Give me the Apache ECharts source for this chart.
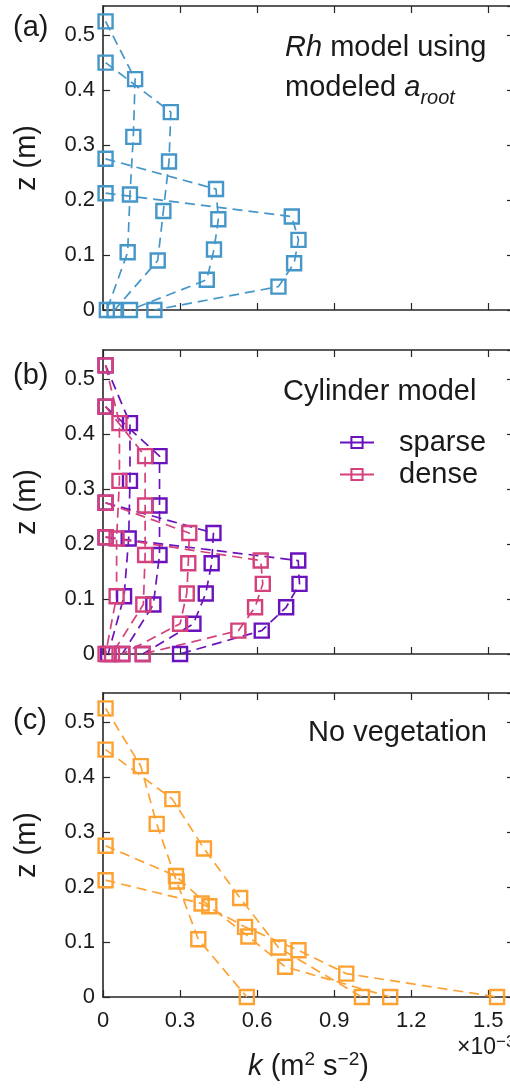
<!DOCTYPE html>
<html>
<head>
<meta charset="utf-8">
<script src="https://cdn.jsdelivr.net/npm/echarts@6/dist/echarts.min.js"></script>
<style>html,body{margin:0;padding:0;background:#fff}#chart{width:510px;height:1088px}</style>
</head>
<body>
<div id="chart"></div>
<script>
// heights of the measurement points (m), one list per flow depth
const zB = [0.525, 0.42, 0.315, 0.21, 0.105, 0];
const zA = [0.45, 0.36, 0.27, 0.18, 0.09, 0];
const zC = [0.275, 0.22, 0.165, 0.11, 0.055, 0];
const zD = [0.2125, 0.17, 0.1275, 0.085, 0.0425, 0];

// k (x10^-3 m2 s-2), panel (a) Rh model
const rhB = [0.01, 0.125, 0.118, 0.105, 0.096, 0.015];
const rhA = [0.01, 0.264, 0.257, 0.235, 0.213, 0.045];
const rhC = [0.01, 0.44, 0.449, 0.432, 0.404, 0.105];
const rhD = [0.01, 0.735, 0.761, 0.744, 0.683, 0.2];

// panel (b) cylinder model
const spB = [0.01, 0.105, 0.105, 0.1, 0.082, 0.02];
const spA = [0.01, 0.22, 0.22, 0.22, 0.196, 0.075];
const spC = [0.01, 0.43, 0.423, 0.4, 0.352, 0.155];
const spD = [0.01, 0.76, 0.765, 0.713, 0.618, 0.3];
const dnB = [0.01, 0.064, 0.064, 0.053, 0.053, 0.01];
const dnA = [0.01, 0.164, 0.164, 0.164, 0.157, 0.035];
const dnC = [0.01, 0.336, 0.332, 0.326, 0.3, 0.075];
const dnD = [0.01, 0.614, 0.622, 0.592, 0.527, 0.155];

// panel (c) no vegetation
const nvB = [0.01, 0.147, 0.209, 0.287, 0.371, 0.56];
const nvA = [0.01, 0.27, 0.393, 0.534, 0.683, 1.008];
const nvC = [0.01, 0.284, 0.414, 0.566, 0.709, 1.118];
const nvD = [0.01, 0.384, 0.553, 0.761, 0.947, 1.534];

const FONT = 'Liberation Sans, Arial, sans-serif';
const AX = '#262626';
const TXT = '#1a1a1a';
const BLUE = '#4596c9', PURPLE = '#6a12bd', PINK = '#d4417c', ORANGE = '#fda232';

const tops = [6, 350, 693];
const H = 304;
const yMax = 0.553;

const chart = echarts.init(document.getElementById('chart'));

const grids = tops.map(t => ({ left: 103, top: t, width: 411, height: H, outerBoundsMode: 'none', containLabel: false }));

function tick() {
  return { show: true, inside: true, length: 7, lineStyle: { color: AX, width: 1.2 } };
}
function line() {
  return { show: true, onZero: false, lineStyle: { color: AX, width: 1.6 } };
}

const xAxes = [], yAxes = [];
tops.forEach((t, g) => {
  const last = g === 2;
  xAxes.push({
    gridIndex: g, type: 'value', min: 0, max: 1.6, interval: 0.3, position: 'bottom',
    axisLine: line(), axisTick: tick(), splitLine: { show: false },
    axisLabel: {
      show: last, fontSize: 22, color: TXT, fontFamily: FONT, margin: 13, showMaxLabel: false,
      formatter: v => v === 0 ? '0' : (+v).toFixed(1)
    },
    name: last ? '{i|k} (m{sup|2} s{sup|\u22122})' : '',
    nameLocation: 'middle', nameGap: 53,
    nameTextStyle: {
      fontSize: 29, fontFamily: FONT, color: TXT, lineHeight: 34,
      rich: {
        i: { fontSize: 29, fontStyle: 'italic', fontFamily: FONT, color: TXT, lineHeight: 34 },
        sup: { fontSize: 19, fontFamily: FONT, color: TXT, lineHeight: 18, verticalAlign: 'top' }
      }
    }
  });
  xAxes.push({
    gridIndex: g, type: 'value', min: 0, max: 1.6, interval: 0.3, position: 'top',
    axisLine: line(), axisTick: tick(), splitLine: { show: false }, axisLabel: { show: false }
  });
  yAxes.push({
    gridIndex: g, type: 'value', min: 0, max: yMax, interval: 0.1, position: 'left',
    axisLine: line(), axisTick: tick(), splitLine: { show: false },
    axisLabel: {
      fontSize: 22, color: TXT, fontFamily: FONT, margin: 8, showMaxLabel: false,
      formatter: v => v === 0 ? '0' : (+v).toFixed(1)
    },
    name: 'z (m)', nameLocation: 'middle', nameGap: 62,
    nameTextStyle: { fontSize: 29, fontFamily: FONT, color: TXT }
  });
  yAxes.push({
    gridIndex: g, type: 'value', min: 0, max: yMax, interval: 0.1, position: 'right',
    axisLine: line(), axisTick: tick(), splitLine: { show: false }, axisLabel: { show: false }
  });
});

function mk(name, k, z, color, g) {
  return {
    name: name, type: 'line', xAxisIndex: g * 2, yAxisIndex: g * 2,
    data: k.map((v, i) => [v, z[i]]),
    symbol: 'rect', symbolSize: 14, showSymbol: true,
    lineStyle: { color: color, width: 1.7, type: [10, 6] },
    itemStyle: { color: 'rgba(255,255,255,0)', borderColor: color, borderWidth: 2.4 },
    emphasis: { disabled: true }, animation: false
  };
}

const series = [
  mk('a1', rhB, zB, BLUE, 0), mk('a2', rhA, zA, BLUE, 0),
  mk('a3', rhC, zC, BLUE, 0), mk('a4', rhD, zD, BLUE, 0),
  mk('sparse', spB, zB, PURPLE, 1), mk('sparse', spA, zA, PURPLE, 1),
  mk('sparse', spC, zC, PURPLE, 1), mk('sparse', spD, zD, PURPLE, 1),
  mk('dense', dnB, zB, PINK, 1), mk('dense', dnA, zA, PINK, 1),
  mk('dense', dnC, zC, PINK, 1), mk('dense', dnD, zD, PINK, 1),
  mk('c1', nvB, zB, ORANGE, 2), mk('c2', nvA, zA, ORANGE, 2),
  mk('c3', nvC, zC, ORANGE, 2), mk('c4', nvD, zD, ORANGE, 2)
];

function label(text, x, y, size, extra) {
  return {
    type: 'text', x: x, y: y, silent: true,
    style: Object.assign({
      text: text, fontSize: size, fontFamily: FONT, fill: TXT,
      textAlign: 'left', textVerticalAlign: 'middle'
    }, extra || {})
  };
}

const graphics = [
  label('(a)', 13, 28, 29),
  label('(b)', 13, 376, 29),
  label('(c)', 13, 721, 29),
  label('{i|Rh} model using\nmodeled {i|a}{sub|root}', 285, 28, 29, {
    textVerticalAlign: 'top', lineHeight: 40,
    rich: {
      i: { fontSize: 29, fontStyle: 'italic', fontFamily: FONT, fill: TXT, lineHeight: 40 },
      sub: { fontSize: 20, fontStyle: 'italic', fontFamily: FONT, fill: TXT, lineHeight: 26, verticalAlign: 'bottom' }
    }
  }),
  label('Cylinder model', 283, 392, 29),
  label('No vegetation', 308, 733, 29),
  label('\u00d710{sup|\u22123}', 457, 1048, 23, {
    lineHeight: 28,
    rich: { sup: { fontSize: 17, fontFamily: FONT, fill: TXT, lineHeight: 14, verticalAlign: 'top' } }
  })
];

chart.setOption({
  animation: false,
  grid: grids,
  xAxis: xAxes,
  yAxis: yAxes,
  legend: {
    data: ['sparse', 'dense'], orient: 'vertical', left: 334, top: 423,
    itemWidth: 34, itemHeight: 14, itemGap: 3, selectedMode: false,
    lineStyle: { type: 'solid' },
    textStyle: { fontSize: 29, fontFamily: FONT, color: TXT, padding: [0, 0, 0, 20] }
  },
  series: series,
  graphic: graphics
});
</script>
</body>
</html>
